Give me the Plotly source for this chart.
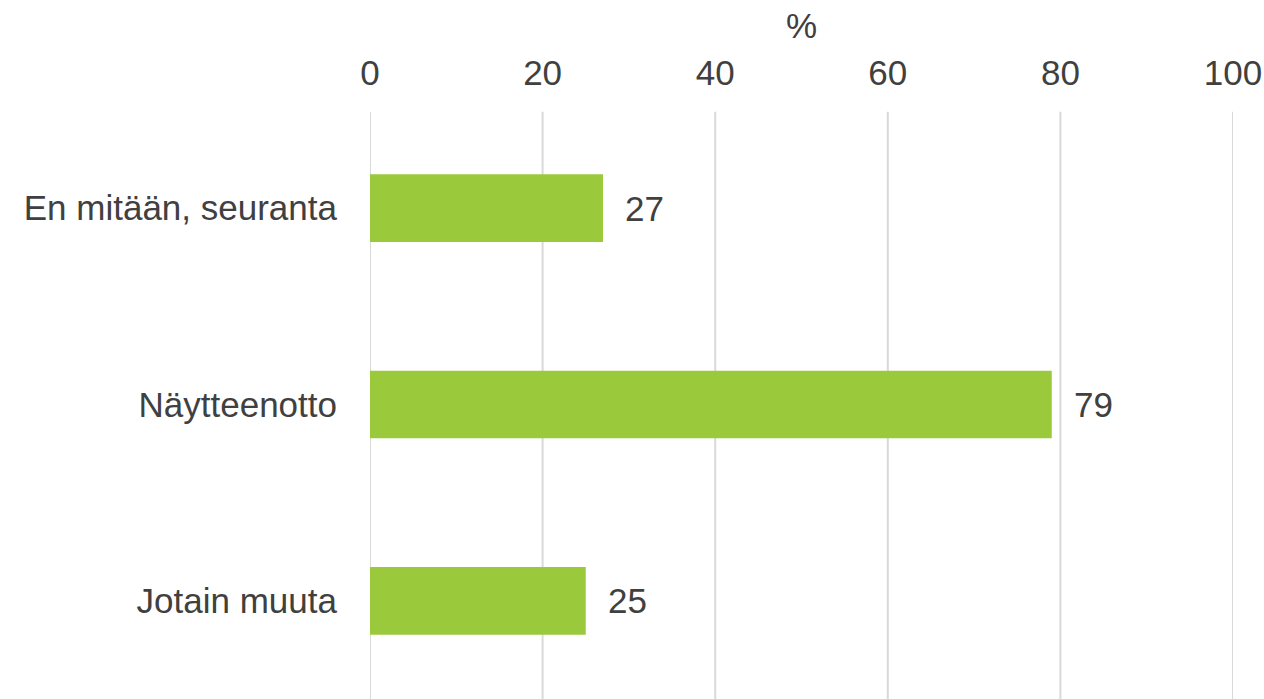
import plotly.graph_objects as go

categories = ["En mitään, seuranta", "Näytteenotto", "Jotain muuta"]
values = [27, 79, 25]
x_ticks = [0, 20, 40, 60, 80, 100]

FONT = "Liberation Sans, Arial, sans-serif"
TEXT = "#404040"
FS = 35

fig = go.Figure(go.Bar(
    y=categories, x=values, orientation="h",
    marker=dict(color="#9ACA3C", line=dict(width=0)),
    width=0.345,
    hoverinfo="skip",
))

for c, v in zip(categories, values):
    fig.add_annotation(x=v, y=c, text=str(v), showarrow=False,
                       xanchor="left", yanchor="middle", xshift=20,
                       font=dict(family=FONT, size=FS, color=TEXT))

for t in x_ticks:
    fig.add_shape(type="line", xref="x", yref="paper", x0=t, x1=t, y0=0, y1=0.997,
                  line=dict(color="#d9d9d9", width=2), layer="below")

fig.update_layout(
    width=1264, height=699,
    margin=dict(l=370, r=31, t=110, b=0, autoexpand=False),
    paper_bgcolor="white", plot_bgcolor="white",
    showlegend=False,
    font=dict(family=FONT, size=FS, color=TEXT),
    xaxis=dict(side="top", range=[0, 100], tickvals=x_ticks,
               showgrid=False, zeroline=False, showline=False, ticks="",
               ticklabelstandoff=17, automargin=False,
               title=dict(text="%", standoff=3, font=dict(size=FS, color=TEXT)),
               tickfont=dict(size=FS, color=TEXT), fixedrange=True),
    yaxis=dict(autorange="reversed", showgrid=False, zeroline=False,
               showline=False, ticks="", ticklabelstandoff=32, automargin=False,
               tickfont=dict(size=FS, color=TEXT), fixedrange=True),
)

fig.write_html(
    "out.html",
    config={"displayModeBar": False, "staticPlot": True},
    post_script="document.body.style.margin='0';document.body.style.overflow='hidden';",
)
